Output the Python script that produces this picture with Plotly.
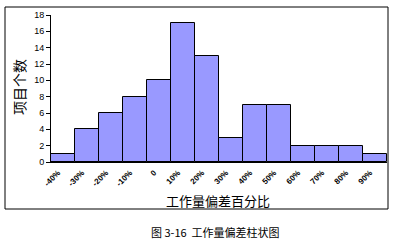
import plotly.graph_objects as go

categories = ["-40%", "-30%", "-20%", "-10%", "0", "10%", "20%", "30%", "40%", "50%", "60%", "70%", "80%", "90%"]
counts = [1, 4, 6, 8, 10, 17, 13, 3, 7, 7, 2, 2, 2, 1]
y_ticks = [0, 2, 4, 6, 8, 10, 12, 14, 16, 18]

W, H = 396, 242
L, R, T, B = 51, 9, 15, 80
pw, ph = W - L - R, H - T - B

def px(x):
    return (x - L) / pw

def py(y):
    return (H - B - y) / ph

fig = go.Figure(go.Bar(
    x=categories, y=counts,
    marker=dict(color="#9999FF", line=dict(color="black", width=1)),
))

cjk = "Noto Sans CJK SC"
fig.update_layout(
    width=W, height=H, margin=dict(l=L, r=R, t=T, b=B),
    paper_bgcolor="white", plot_bgcolor="white",
    bargap=0, showlegend=False,
    xaxis=dict(type="category", showline=True, linecolor="black", linewidth=1,
               ticks="", tickangle=-45, showgrid=False, ticklabelshift=-5, ticklabelstandoff=2,
               tickfont=dict(family="Arial", size=8, color="black", weight="bold")),
    yaxis=dict(range=[0, 18], tickvals=y_ticks, showline=True, linecolor="black", linewidth=1,
               ticks="outside", ticklen=4, tickcolor="black", showgrid=False, zeroline=False,
               tickfont=dict(family="Arial", size=9, color="black")),
    shapes=[dict(type="rect", xref="paper", yref="paper",
                 x0=px(5), x1=px(388), y0=py(209), y1=py(7),
                 line=dict(color="black", width=1), fillcolor="rgba(0,0,0,0)", layer="below")],
    annotations=[
        dict(text="项目个数", xref="paper", yref="paper", x=px(19), y=py(87),
             xanchor="center", yanchor="middle",
             textangle=-90, showarrow=False, font=dict(family=cjk, size=14, color="black")),
        dict(text="工作量偏差百分比", xref="paper", yref="paper", x=px(218), y=py(200),
             xanchor="center", yanchor="middle",
             showarrow=False, font=dict(family=cjk, size=13, color="black")),
        dict(text="图 3-16  工作量偏差柱状图", xref="paper", yref="paper", x=px(215), y=py(232),
             xanchor="center", yanchor="middle",
             showarrow=False, font=dict(family=cjk, size=11, color="black")),
    ],
)

fig.write_html("out.html")
